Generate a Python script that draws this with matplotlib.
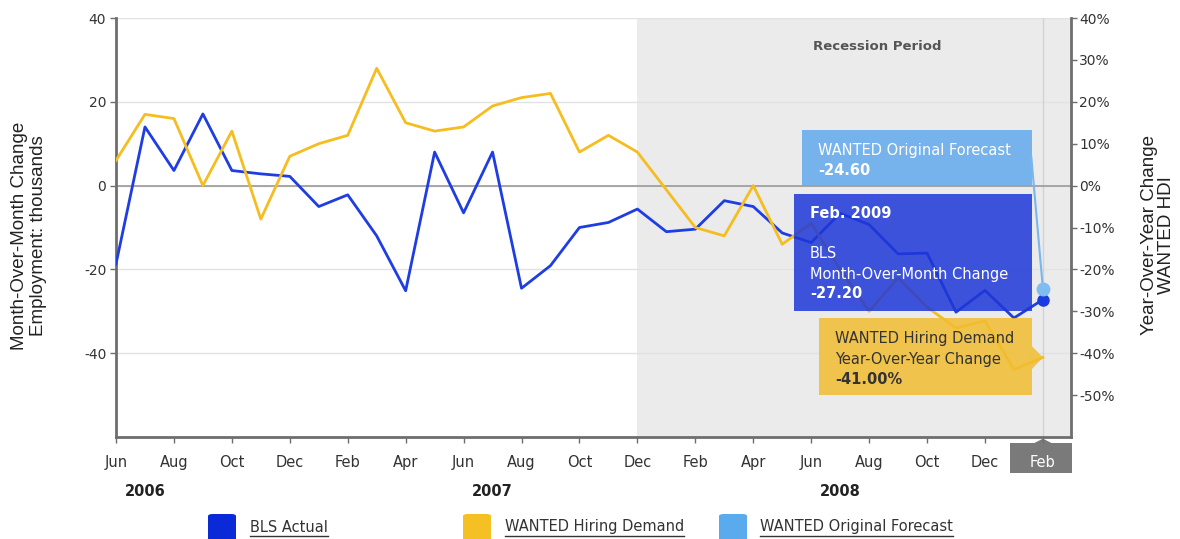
import numpy as np
import matplotlib
matplotlib.use('Agg')
import matplotlib.pyplot as plt
from matplotlib.patches import Rectangle, Polygon, FancyBboxPatch
from matplotlib.lines import Line2D
from matplotlib.transforms import IdentityTransform, blended_transform_factory

plt.rcParams['font.family'] = ['DejaVu Sans']

# months Jun 2006 .. Feb 2009 (index 0..32)
bls_actual = [-18.7, 14.0, 3.6, 17.1, 3.6, 2.8, 2.2, -5.0, -2.2, -12.0,
              -25.1, 8.0, -6.5, 8.0, -24.5, -19.1, -10.0, -8.8, -5.6, -11.0,
              -10.4, -3.6, -5.0, -11.3, -13.6, -6.6, -9.3, -16.3, -16.1, -30.2,
              -25.0, -31.6, -27.2]
hiring_demand = [6, 17, 16, 0, 13, -8, 7, 10, 12, 28,
                 15, 13, 14, 19, 21, 22, 8, 12, 8, -1,
                 -10, -12, 0, -14, -9, -20, -30, -22, -29, -34,
                 -32.3, -43.9, -41.0]
forecast_month = [32]
forecast_value = [-24.6]

tick_labels = ['Jun', 'Aug', 'Oct', 'Dec', 'Feb', 'Apr', 'Jun', 'Aug', 'Oct',
               'Dec', 'Feb', 'Apr', 'Jun', 'Aug', 'Oct', 'Dec', 'Feb']
year_labels = ['2006', '2007', '2008']
year_month = [1, 13, 25]
recession_start = 18

left_ticks = [-40, -20, 0, 20, 40]
right_ticks = [-50, -40, -30, -20, -10, 0, 10, 20, 30, 40]

c_bls = '#1e3de2'
c_hdi = '#f5bd1f'
grey = '#6e6e6e'

x = np.arange(len(bls_actual))

fig = plt.figure(figsize=(11.8, 5.39), dpi=100)
ax = fig.add_axes([116/1180, 1-437/539, (1071-116)/1180, (437-18)/539])
ax.set_xlim(0, 32.97)
ax.set_ylim(-60, 40)

# recession shading + crosshair
ax.axvspan(recession_start, 33, color='#ebebeb', zorder=0, lw=0)
ax.axvline(32, color='#d2d2d2', lw=1, zorder=1)
ax.text(26.27, 33.3, 'Recession Period', ha='center', va='center',
        fontsize=9.5, fontweight='bold', color='#555555')

ax.set_yticks(left_ticks)
ax.set_yticklabels([str(v) for v in left_ticks])
ax.yaxis.grid(True, color='#e2e2e2', lw=1)
ax.set_axisbelow(True)
ax.axhline(0, color='#9a9a9a', lw=1.2, zorder=1)

ax.plot(x, bls_actual, color=c_bls, lw=2, zorder=3)
ax.plot(x, hiring_demand, color=c_hdi, lw=2, zorder=3)

ax.set_xticks(np.arange(0, 33, 2))
ax.set_xticklabels(tick_labels)
ax.tick_params(axis='x', length=4, width=1, color=grey, pad=9, labelsize=10.5, labelcolor='#333333')
ax.tick_params(axis='y', length=4, width=1, color=grey, pad=3, labelsize=10, labelcolor='#333333')
for s in ['top', 'right']:
    ax.spines[s].set_visible(False)
for s in ['left', 'bottom']:
    ax.spines[s].set_color(grey)
    ax.spines[s].set_linewidth(2)

# right axis, same scale in percent
ax2 = ax.twinx()
ax2.set_ylim(-60, 40)
ax2.set_yticks(right_ticks)
ax2.set_yticklabels(['%d%%' % v for v in right_ticks])
ax2.tick_params(axis='y', length=4, width=1, color=grey, pad=2, labelsize=10, labelcolor='#333333')
for s in ['top', 'left', 'bottom']:
    ax2.spines[s].set_visible(False)
ax2.spines['right'].set_color(grey)
ax2.spines['right'].set_linewidth(2)
ax2.patch.set_visible(False)

# highlighted Feb label (box under the tick label)
ax.get_xticklabels()[-1].set_color('white')
trans = blended_transform_factory(ax.transData, ax.transAxes)
ax.add_patch(Rectangle((30.86, -0.086), 2.14, 0.072, transform=trans,
                       facecolor='#7a7a7a', edgecolor='none', clip_on=False, zorder=0.2))
ax.add_patch(Polygon([(31.7, -0.0145), (32, -0.004), (32.3, -0.0145)], closed=True,
                     transform=trans, facecolor='#7a7a7a', edgecolor='none', clip_on=False, zorder=0.2))

for yl, ym in zip(year_labels, year_month):
    ax.text(ym, -0.129, yl, transform=trans, ha='center', va='center',
            fontsize=10.5, fontweight='bold', color='#222222')

# tooltips
ax2.add_patch(Rectangle((23.68, -0.2), 7.94, 13.4, facecolor='#69acec', edgecolor='none',
                        alpha=0.9, zorder=5))
ax2.plot([31.6, forecast_month[0]], [6.8, forecast_value[0]], color='#7ab6ee', lw=1.5, zorder=5)
ax2.text(24.23, 8.4, 'WANTED Original Forecast', color='white', fontsize=10.5, va='center', zorder=6)
ax2.text(24.23, 3.6, '%.2f' % forecast_value[0], color='white', fontsize=10.5,
         fontweight='bold', va='center', zorder=6)

ax2.add_patch(Rectangle((23.4, -29.9), 8.22, 28.0, facecolor='#1f37d8', edgecolor='none',
                        alpha=0.85, zorder=5))
ax2.text(23.96, -6.7, 'Feb. 2009', color='white', fontsize=10.5, fontweight='bold', va='center', zorder=6)
ax2.text(23.96, -16.3, 'BLS', color='white', fontsize=10.5, va='center', zorder=6)
ax2.text(23.96, -21.3, 'Month-Over-Month Change', color='white', fontsize=10.5, va='center', zorder=6)
ax2.text(23.96, -25.8, '%.2f' % bls_actual[-1], color='white', fontsize=10.5,
         fontweight='bold', va='center', zorder=6)

ax2.add_patch(Rectangle((24.27, -50.0), 7.35, 18.4, facecolor='#f1bd30', edgecolor='none',
                        alpha=0.85, zorder=5))
ax2.add_patch(Polygon([(31.62, -38.3), (x[-1], hiring_demand[-1]), (31.62, -43.8)], closed=True,
                      facecolor='#f1bd30', edgecolor='none', alpha=0.85, zorder=5))
ax2.text(24.82, -36.6, 'WANTED Hiring Demand', color='#333333', fontsize=10.5, va='center', zorder=6)
ax2.text(24.82, -41.4, 'Year-Over-Year Change', color='#333333', fontsize=10.5, va='center', zorder=6)
ax2.text(24.82, -46.2, '%.2f%%' % hiring_demand[-1], color='#333333', fontsize=10.5,
         fontweight='bold', va='center', zorder=6)

ax2.plot(x[-1], bls_actual[-1], 'o', color='#1a3be0', ms=8, zorder=7, clip_on=False)
ax2.plot(forecast_month, forecast_value, 'o', color='#7fbcf2', ms=9, zorder=7, clip_on=False)

# axis titles
fig.text(29/1180, 1-236/539, 'Month-Over-Month Change\nEmployment: thousands', rotation=90,
         ha='center', va='center', multialignment='center', fontsize=13.5,
         family='Liberation Sans', color='#222222', linespacing=1.15)
fig.text(1158/1180, 1-235/539, 'Year-Over-Year Change\nWANTED HDI', rotation=90,
         ha='center', va='center', multialignment='center', fontsize=13.5,
         family='Liberation Sans', color='#222222', linespacing=1.05)

# legend along the bottom
leg_items = [('BLS Actual', '#0a2ad8', 208, 250),
             ('WANTED Hiring Demand', '#f5c024', 463, 505),
             ('WANTED Original Forecast', '#5aabee', 719, 760)]
leg_texts = []
for name, col, sx, tx in leg_items:
    fig.add_artist(FancyBboxPatch((sx/1180, 1-542/539), 28/1180, 28/539,
                                  boxstyle='round,pad=0,rounding_size=0.004',
                                  transform=fig.transFigure, facecolor=col, edgecolor='none'))
    leg_texts.append(fig.text(tx/1180, 1-527/539, name, ha='left', va='center',
                              fontsize=10.5, color='#333333'))

fig.canvas.draw()
r = fig.canvas.get_renderer()
for t in leg_texts:
    bb = t.get_window_extent(renderer=r)
    fig.add_artist(Line2D([bb.x0, bb.x1], [bb.y0 - 1, bb.y0 - 1], transform=IdentityTransform(),
                          color='#333333', lw=1))

plt.savefig('out.png', dpi=100)
